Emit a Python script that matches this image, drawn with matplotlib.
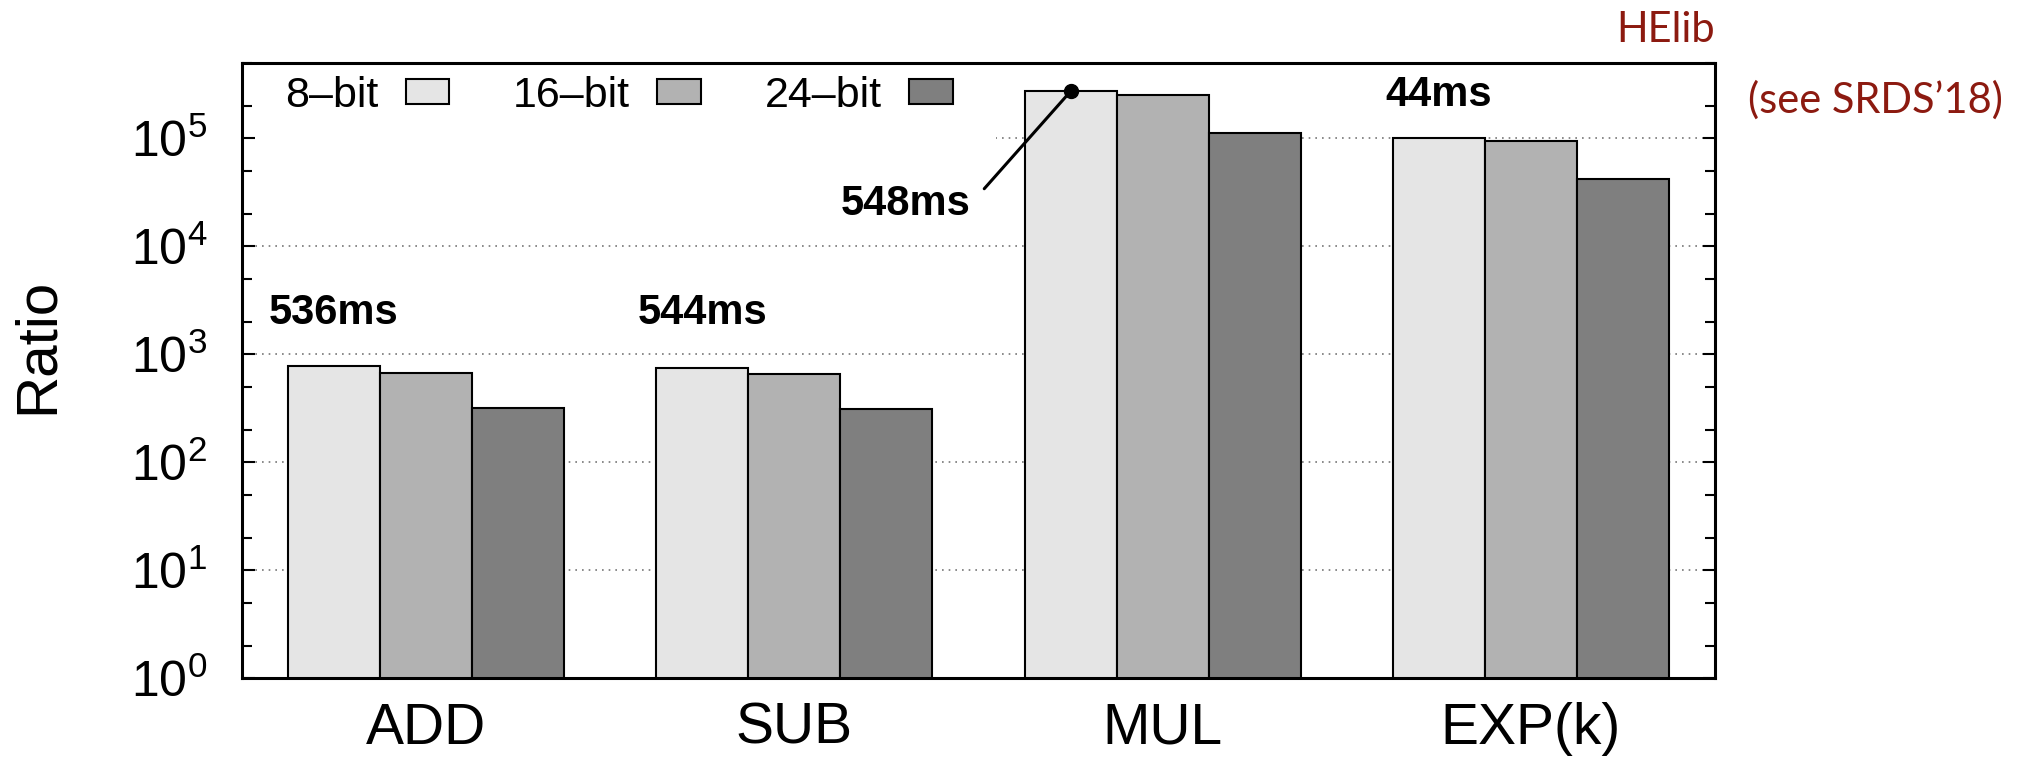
import matplotlib
matplotlib.use('Agg')
import matplotlib.pyplot as plt
import numpy as np
from matplotlib import font_manager
from matplotlib.ticker import LogLocator, NullFormatter

# data
ops = ['ADD', 'SUB', 'MUL', 'EXP(k)']
series = ['8\u2013bit', '16\u2013bit', '24\u2013bit']
ratio_8bit = [784, 753, 2.73e5, 1.02e5]
ratio_16bit = [676, 662, 2.55e5, 9.4e4]
ratio_24bit = [320, 308, 1.13e5, 4.18e4]
base_times = ['536ms', '544ms', '548ms', '44ms']
time_label_y = [2430, 2430, 2.45e4, 2.5e5]

colors = ['#e5e5e5', '#b2b2b2', '#7f7f7f']
helib_red = '#8c1a10'

names = {f.name for f in font_manager.fontManager.ttflist}
narrow = 'Liberation Sans Narrow' if 'Liberation Sans Narrow' in names else 'Liberation Sans'
plt.rcParams['font.family'] = ['Liberation Sans', 'DejaVu Sans']
plt.rcParams['mathtext.default'] = 'regular'

W, H = 2036, 764
fig = plt.figure(figsize=(W / 100, H / 100), dpi=100)
ax_l, ax_r, ax_t, ax_b = 242, 1715, 63, 678
fig.subplots_adjust(left=ax_l / W, right=ax_r / W, top=1 - ax_t / H, bottom=1 - ax_b / H)
ax = fig.add_subplot(111)

x = np.arange(len(ops))
w = 0.25
for i, (vals, col, lab) in enumerate(zip([ratio_8bit, ratio_16bit, ratio_24bit], colors, series)):
    ax.bar(x + (i - 1) * w, vals, w, color=col, edgecolor='black', linewidth=1.5, label=lab, zorder=2)

ax.set_yscale('log')
ax.set_ylim(1, 5e5)
ax.set_xlim(-0.5, 3.5)

# dotted grid lines behind the bars (and behind the key box)
for g in 10.0 ** np.arange(1, 6):
    ax.axhline(g, color='#777777', lw=1.2, ls=(0, (1, 3)), zorder=0.5)

ax.yaxis.set_major_locator(LogLocator(base=10, numticks=10))
ax.yaxis.set_minor_locator(LogLocator(base=10, subs=(2, 5), numticks=10))
ax.yaxis.set_minor_formatter(NullFormatter())
ax.set_xticks(x)
ax.set_xticklabels(ops)
ax.tick_params(axis='x', length=0, pad=17, labelsize=41)
ax.tick_params(axis='y', which='both', direction='in', right=True, width=1.5, pad=25,
               labelsize=36, labelfontfamily=narrow)
ax.tick_params(axis='y', which='major', length=9)
ax.tick_params(axis='y', which='minor', length=7)
for s in ax.spines.values():
    s.set_linewidth(2.2)

ax.set_ylabel('Ratio', fontsize=42)
ax.yaxis.set_label_coords(-0.12, 0.54)

leg = ax.legend(loc='center left', bbox_to_anchor=(0, (ax_b - 96) / (ax_b - ax_t)), ncol=3,
                frameon=True, fancybox=False, edgecolor='none', facecolor='white', framealpha=1,
                markerfirst=False, borderpad=1.0, handlelength=1.02, handleheight=0.53,
                handletextpad=0.63, columnspacing=1.48, borderaxespad=0, fontsize=31)
leg.set_zorder(1)

# base time labels
for i in [0, 1, 3]:
    ax.text(x[i] - w, time_label_y[i], base_times[i], ha='center', va='center',
            fontsize=30, fontweight='bold', family=narrow, zorder=4)
ax.plot(x[2] - w, ratio_8bit[2], 'o', ms=10, color='black', zorder=4, clip_on=False)
ax.annotate(base_times[2], xy=(x[2] - w, ratio_8bit[2]), xytext=(1.478, time_label_y[2]),
            ha='right', va='center', fontsize=30, fontweight='bold', family=narrow, zorder=4,
            arrowprops=dict(arrowstyle='-', lw=2.2, color='black', shrinkA=12, shrinkB=0,
                            relpos=(1, 0.5)))

fig.text(ax_r / W, 1 - 30 / H, 'HElib', ha='right', va='center', fontsize=30,
         family='Lato', color=helib_red)
fig.text(1748 / W, 1 - 100 / H, '(see SRDS\u201918)', ha='left', va='center', fontsize=30,
         family='Lato', color=helib_red)

fig.savefig('out.png', dpi=100)
